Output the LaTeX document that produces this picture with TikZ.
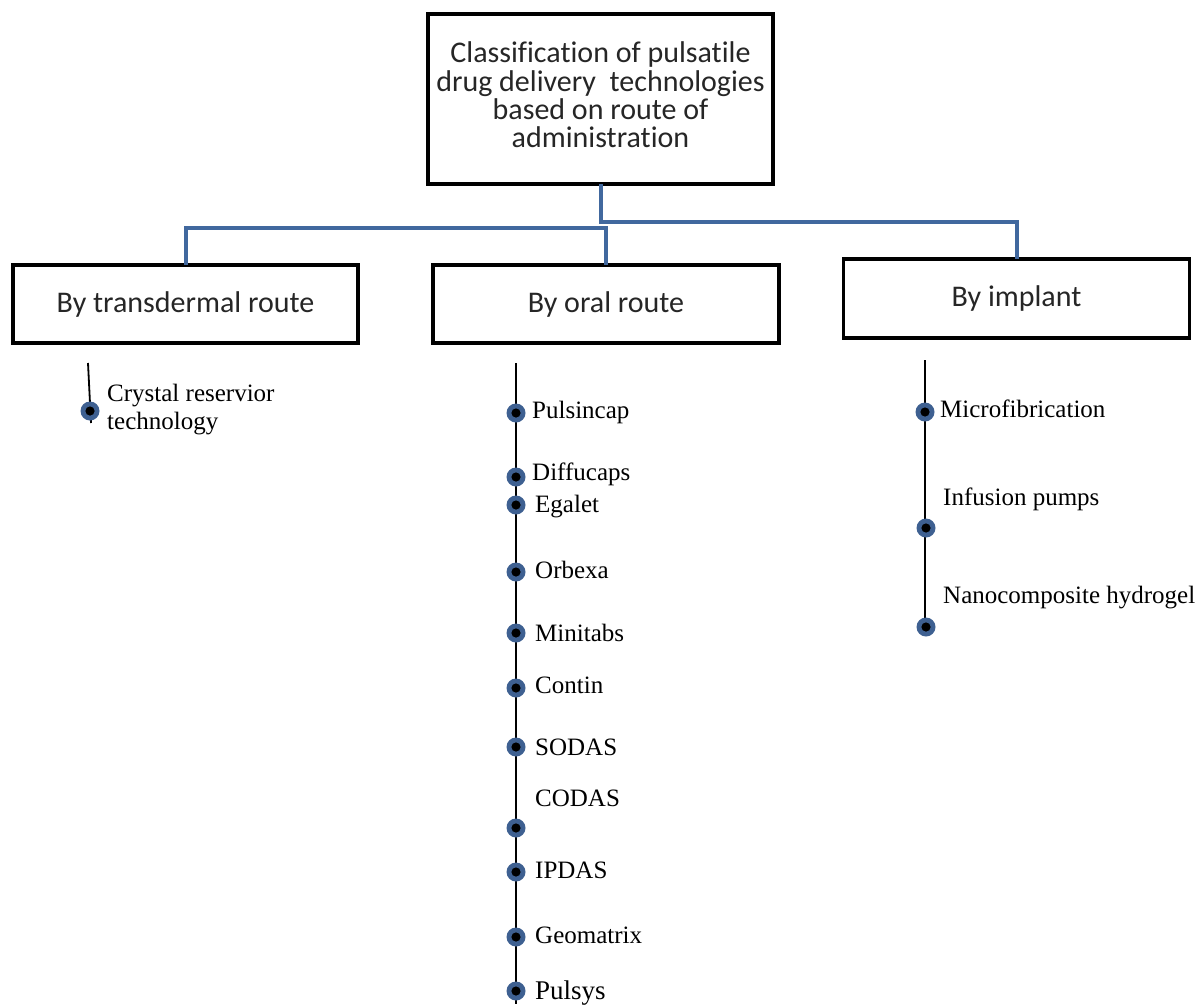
\documentclass[tikz,border=0pt]{standalone}
\usepackage{fontspec}
\setmainfont{Liberation Serif}
\newfontfamily\calibri[Ligatures=NoCommon]{Carlito}
\definecolor{linkblue}{RGB}{65,104,158}
\definecolor{dotblue}{RGB}{62,96,145}
\begin{document}
\begin{tikzpicture}[x=1pt,y=-1pt,
  catbox/.style={draw=black, line width=3.5pt, fill=white, inner sep=0pt, outer sep=0pt,
    font=\calibri\fontsize{30}{30}\selectfont, align=center, text=black!85},
  toptext/.style={inner sep=0pt, outer sep=0pt, font=\calibri\fontsize{30}{28.3}\selectfont,
    align=center, text=black!85},
  blueline/.style={draw=linkblue, line width=4pt},
  stem/.style={draw=black, line width=1.8pt},
  dotnode/.style={circle, fill=dotblue, minimum size=19pt, inner sep=0pt, outer sep=0pt,
    path picture={\fill[black] (path picture bounding box.center) circle (4.6pt);}},
  lab/.style={anchor=base west, inner sep=0pt, font=\fontsize{25}{28}\selectfont}
]
\useasboundingbox (0,0) rectangle (1198,1004);

% boxes
\node[catbox, minimum width=345pt, minimum height=170pt] (top) at (600.5,99) {};
\node[toptext] (topt) at (600.5,95)
  {Classification of pulsatile\\ drug delivery\ \ technologies\\ based on route of\\ administration};
\node[catbox, minimum width=345pt, minimum height=78pt] (td) at (185.5,304) {By transdermal route};
\node[catbox, minimum width=346pt, minimum height=78pt] (oral) at (606,304) {By oral route};
\node[catbox, minimum width=346pt, minimum height=79pt] (impl) at (1016.5,298.5) {By implant};

% blue connectors
\draw[blueline] (top.south) -- ++(0,38) -| (impl.north);
\draw[blueline] (td.north) -- ++(0,-37) -| (oral.north);

% transdermal branch
\coordinate (tdtop) at (88,363);
\coordinate (tdbot) at (91,423);
\draw[stem] (tdtop) -- (tdbot);
\node[dotnode] (t1) at (90,411) {};
\node[lab] (t1l) at (107,401) {Crystal reservior};
\node[lab] (t1m) at (107,429) {technology};

% oral branch
\coordinate (oltop) at (516,363);
\coordinate (olbot) at (516,1004);
\draw[stem] (oltop) -- (olbot);
\foreach \n/\y in {1/413,2/477,3/505,4/572,5/633,6/688,7/747,8/828,9/872,10/937,11/991}
  \node[dotnode] (o\n) at (516,\y) {};
\node[lab] (o1l) at (532,418) {Pulsincap};
\node[lab] (o2l) at (532,480) {Diffucaps};
\node[lab] (o3l) at (535,512) {Egalet};
\node[lab] (o4l) at (535,578) {Orbexa};
\node[lab] (o5l) at (535,641) {Minitabs};
\node[lab] (o6l) at (535,693) {Contin};
\node[lab] (o7l) at (535,755) {SODAS};
\node[lab] (o8l) at (535,806) {CODAS};
\node[lab] (o9l) at (535,878) {IPDAS};
\node[lab] (o10l) at (535,943) {Geomatrix};
\node[lab, font=\fontsize{27}{28}\selectfont] (o11l) at (535,999) {Pulsys};

% implant branch
\coordinate (imtop) at (925,360);
\coordinate (imbot) at (925,627);
\draw[stem] (imtop) -- (imbot);
\node[dotnode] (i1) at (925,412) {};
\node[dotnode] (i2) at (926,528) {};
\node[dotnode] (i3) at (926,627) {};
\node[lab] (i1l) at (940,417) {Microfibrication};
\node[lab] (i2l) at (943,505) {Infusion pumps};
\node[lab] (i3l) at (943,603) {Nanocomposite hydrogel};
\end{tikzpicture}
\end{document}
